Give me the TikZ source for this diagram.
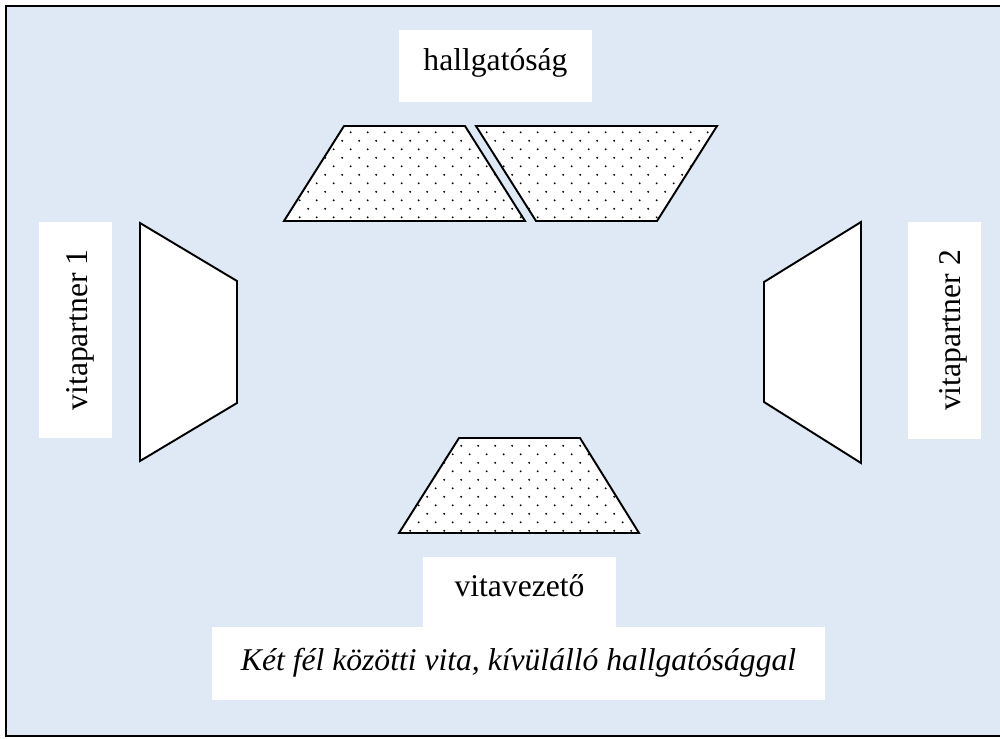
\documentclass[tikz,border=0pt]{standalone}
\usepackage{fontspec}
\setmainfont{Liberation Serif}
\usetikzlibrary{patterns.meta}

\definecolor{roombg}{RGB}{222,233,245}

\tikzdeclarepattern{
  name=sparse dots,
  type=uncolored,
  bounding box={(0pt,0pt) and (9.64pt,9.64pt)},
  tile size={(9.64pt,9.64pt)},
  code={
    \fill (2.4pt,2.4pt) circle (.6pt);
    \fill (7.22pt,7.22pt) circle (.6pt);
  }
}

\begin{document}
\begin{tikzpicture}[x=0.02cm, y=-0.02cm]
    \tikzset{
        seat/.style={draw, line width=1.1pt, line join=miter, fill=white},
        dotseat/.style={seat, postaction={pattern=sparse dots, pattern color=black}},
        label box/.style={fill=white, inner sep=0pt, font=\fontsize{18pt}{21pt}\selectfont}
    }
    \useasboundingbox (0,0) rectangle (1000,738);
    \clip (0,0) rectangle (1000,738);
    \draw [fill=roombg, line width=1.2pt] (6,6) rectangle (1010,736);

    % labels
    \node [label box, minimum width=3.86cm, text height=0.8cm, text depth=0.64cm] (audience) at (495.5,66) {hallgatóság};
    \node [label box, minimum width=3.86cm, text height=0.78cm, text depth=0.72cm] (moderator) at (519.5,594.5) {vitavezető};
    \node [label box, minimum width=12.26cm, text height=0.86cm, text depth=0.6cm, font=\fontsize{18pt}{21pt}\selectfont\itshape] (caption) at (518.5,663.5) {Két fél közötti vita, kívülálló hallgatósággal};
    \node [label box, rotate=90, minimum width=4.32cm, text height=0.98cm, text depth=0.48cm] (partnerA) at (75.5,330) {vitapartner 1};
    \node [label box, rotate=90, minimum width=4.34cm, text height=1.04cm, text depth=0.42cm] (partnerB) at (944.5,330.5) {vitapartner 2};

    % tables
    \draw [dotseat] (284,221) -- (344,126) -- (465,126) -- (525,221) -- cycle;
    \draw [dotseat] (476,126) -- (717,126) -- (657,221) -- (536,221) -- cycle;
    \draw [dotseat] (399,533) -- (459,438) -- (580,438) -- (639,533) -- cycle;
    \draw [seat] (140,223) -- (237,281) -- (237,403) -- (140,461) -- cycle;
    \draw [seat] (861,222) -- (764,282) -- (764,402) -- (861,463) -- cycle;
\end{tikzpicture}
\end{document}
